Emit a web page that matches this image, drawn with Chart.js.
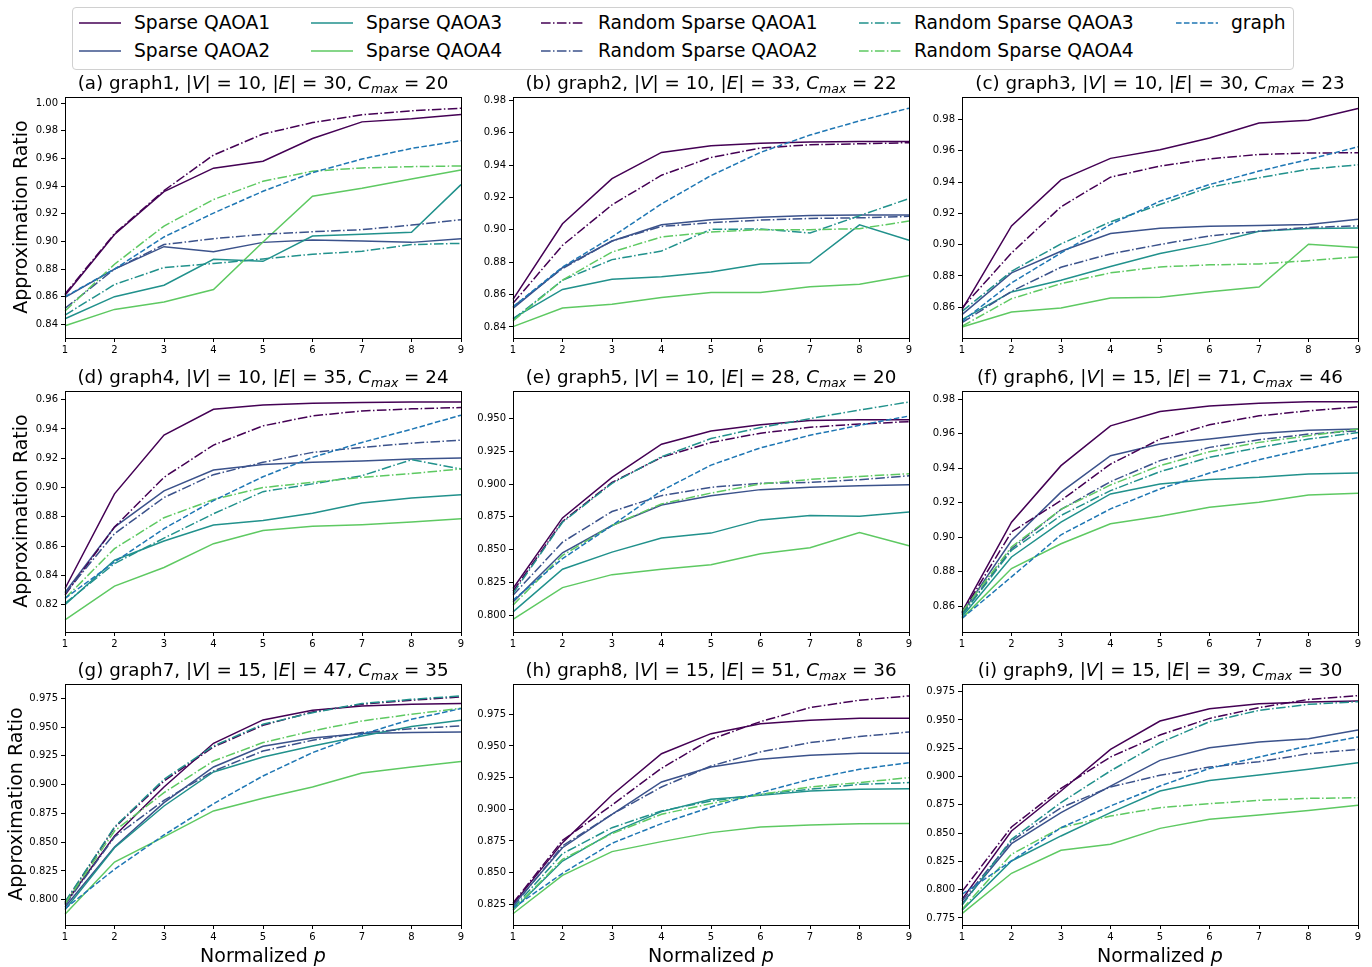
<!DOCTYPE html>
<html>
<head>
<meta charset="utf-8">
<script src="https://cdn.jsdelivr.net/npm/chart.js"></script>
<style>
body { margin: 0; background: #fff; font-family: 'DejaVu Sans', sans-serif; color: #000; }
#fig { position: relative; width: 1372px; height: 967px; overflow: hidden; }
.panel { position: absolute; }
.ttl { position: absolute; font-size: 18.3px; line-height: 22px; white-space: nowrap; transform: translateX(-50%); }
.ttl .sub { font-size: 12.5px; position: relative; top: 4px; font-style: italic; }
.xlab { position: absolute; font-size: 19px; line-height: 22px; white-space: nowrap; transform: translateX(-50%); }
.ylab { position: absolute; font-size: 19px; line-height: 22px; width: 242px; text-align: center; white-space: nowrap; transform: rotate(-90deg); }
#legend { position: absolute; left: 72px; top: 7px; width: 1220px; height: 61px; border: 1px solid #d0d0d0; border-radius: 4px; }
.item { position: absolute; font-size: 18.7px; line-height: 22px; white-space: nowrap; }
.item svg { position: absolute; top: 9px; }
</style>
</head>
<body>
<div id="fig">
  <div id="legend"></div>
</div>
<script>
// x axis, normalized p
var pLabels = ['1', '2', '3', '4', '5', '6', '7', '8', '9']

// panel info (a)..(i)
var panelLetters = ['a', 'b', 'c', 'd', 'e', 'f', 'g', 'h', 'i']
var graphNames = ['graph1', 'graph2', 'graph3', 'graph4', 'graph5', 'graph6', 'graph7', 'graph8', 'graph9']
var nodeCounts = [10, 10, 10, 10, 10, 15, 15, 15, 15]
var edgeCounts = [30, 33, 30, 35, 28, 71, 47, 51, 39]
var cutMax = [20, 22, 23, 24, 20, 46, 35, 36, 30]

// y axis limits per panel
var yMin = [0.8301, 0.8332, 0.8404, 0.8014, 0.7871, 0.845, 0.778, 0.8087, 0.7688]
var yMax = [1.0045, 0.982, 0.9943, 0.9659, 0.9711, 0.9848, 0.9874, 0.9989, 0.9818]
var yStep = [0.02, 0.02, 0.02, 0.02, 0.025, 0.02, 0.025, 0.025, 0.025]
var yDecimals = [2, 2, 2, 2, 3, 2, 3, 3, 3]

// one row per panel, one value per p
var sparse1 = [
    [0.861, 0.905, 0.936, 0.953, 0.958, 0.9745, 0.9865, 0.9887, 0.9918],
    [0.857, 0.9037, 0.9316, 0.9478, 0.9519, 0.9534, 0.9542, 0.9546, 0.9546],
    [0.8585, 0.912, 0.9414, 0.9551, 0.9606, 0.9681, 0.9777, 0.9794, 0.987],
    [0.8311, 0.8957, 0.9358, 0.9534, 0.9564, 0.9575, 0.958, 0.9584, 0.9584],
    [0.8203, 0.8742, 0.9052, 0.9305, 0.9406, 0.9454, 0.9485, 0.9492, 0.9492],
    [0.8567, 0.9087, 0.9415, 0.9646, 0.9729, 0.9761, 0.9777, 0.9785, 0.9785],
    [0.7965, 0.8553, 0.8979, 0.9359, 0.9562, 0.9646, 0.9683, 0.9698, 0.9704],
    [0.825, 0.8737, 0.9113, 0.9439, 0.9597, 0.9676, 0.9703, 0.9718, 0.9718],
    [0.7915, 0.8519, 0.8872, 0.924, 0.9491, 0.96, 0.9644, 0.9659, 0.9668]
]
var sparse2 = [
    [0.8595, 0.880, 0.8962, 0.8926, 0.8993, 0.901, 0.9003, 0.8993, 0.902],
    [0.8515, 0.8767, 0.8931, 0.9031, 0.9062, 0.9078, 0.9089, 0.9091, 0.9091],
    [0.8553, 0.882, 0.8958, 0.9071, 0.9105, 0.9118, 0.9122, 0.9129, 0.9163],
    [0.8284, 0.873, 0.8977, 0.912, 0.9158, 0.9172, 0.9181, 0.9195, 0.9201],
    [0.8101, 0.8476, 0.8684, 0.8841, 0.8912, 0.8958, 0.8976, 0.8988, 0.8996],
    [0.8558, 0.8981, 0.9261, 0.9473, 0.954, 0.9569, 0.9602, 0.9621, 0.9627],
    [0.7936, 0.8458, 0.8843, 0.9153, 0.9333, 0.9405, 0.9443, 0.9452, 0.9457],
    [0.824, 0.8697, 0.8961, 0.9216, 0.9334, 0.9395, 0.9426, 0.9442, 0.9442],
    [0.7877, 0.8407, 0.8681, 0.8916, 0.9143, 0.9255, 0.9305, 0.9335, 0.9411]
]
var sparse3 = [
    [0.844, 0.86, 0.8683, 0.8871, 0.8856, 0.9039, 0.9051, 0.9066, 0.9411],
    [0.8453, 0.8632, 0.8695, 0.871, 0.874, 0.8789, 0.8796, 0.9031, 0.8935],
    [0.8521, 0.8698, 0.8773, 0.886, 0.8943, 0.9005, 0.9086, 0.9103, 0.9107],
    [0.82, 0.8504, 0.8635, 0.8744, 0.8775, 0.8825, 0.8895, 0.8929, 0.895],
    [0.8025, 0.835, 0.8481, 0.8588, 0.8626, 0.8727, 0.876, 0.8755, 0.8788],
    [0.8538, 0.8885, 0.9087, 0.9251, 0.9309, 0.9334, 0.9347, 0.9367, 0.9372],
    [0.7913, 0.8452, 0.8814, 0.911, 0.924, 0.9336, 0.9423, 0.9504, 0.9559],
    [0.8203, 0.8592, 0.8816, 0.8982, 0.9079, 0.911, 0.9145, 0.9158, 0.9163],
    [0.7818, 0.8254, 0.8475, 0.8681, 0.8872, 0.8966, 0.9014, 0.9064, 0.9123]
]
var sparse4 = [
    [0.839, 0.8508, 0.8561, 0.8652, 0.8996, 0.9327, 0.9385, 0.9452, 0.9517],
    [0.8402, 0.8517, 0.8541, 0.8582, 0.8613, 0.8613, 0.8648, 0.8664, 0.8718],
    [0.8474, 0.857, 0.8596, 0.866, 0.8664, 0.87, 0.873, 0.9003, 0.8982],
    [0.8096, 0.8327, 0.8454, 0.8617, 0.8707, 0.8735, 0.8746, 0.8764, 0.8787],
    [0.7967, 0.821, 0.8309, 0.835, 0.8385, 0.8469, 0.8514, 0.8631, 0.853],
    [0.8529, 0.8818, 0.8962, 0.9078, 0.9122, 0.9174, 0.9203, 0.9245, 0.9255],
    [0.7873, 0.8327, 0.8545, 0.8771, 0.8881, 0.8979, 0.9101, 0.9153, 0.92],
    [0.8176, 0.8479, 0.8666, 0.8745, 0.8816, 0.8861, 0.8876, 0.8887, 0.8889],
    [0.7788, 0.8145, 0.8348, 0.8401, 0.8542, 0.8622, 0.866, 0.8701, 0.8746]
]
var random1 = [
    [0.862, 0.9056, 0.9368, 0.9625, 0.9777, 0.986, 0.9916, 0.9945, 0.9964],
    [0.8546, 0.8904, 0.9154, 0.9337, 0.9447, 0.9505, 0.9525, 0.9531, 0.9538],
    [0.8596, 0.8947, 0.9242, 0.9431, 0.9502, 0.9548, 0.9576, 0.9585, 0.9587],
    [0.8266, 0.873, 0.907, 0.929, 0.9421, 0.9489, 0.9523, 0.9537, 0.9546],
    [0.8182, 0.8715, 0.9013, 0.9204, 0.9318, 0.9389, 0.9434, 0.9459, 0.9477],
    [0.8561, 0.903, 0.9213, 0.9424, 0.9569, 0.9652, 0.9704, 0.9733, 0.9756],
    [0.7974, 0.8626, 0.9031, 0.9327, 0.9515, 0.9631, 0.9698, 0.9733, 0.9762],
    [0.826, 0.8755, 0.9034, 0.9324, 0.9553, 0.9692, 0.9803, 0.9861, 0.9895],
    [0.7983, 0.8554, 0.8896, 0.9173, 0.9367, 0.9514, 0.9609, 0.9682, 0.9715]
]
var random2 = [
    [0.8515, 0.880, 0.8977, 0.902, 0.9051, 0.907, 0.9085, 0.9118, 0.9157],
    [0.8525, 0.8761, 0.8931, 0.9021, 0.9044, 0.906, 0.907, 0.9074, 0.9083],
    [0.8502, 0.8702, 0.8856, 0.8941, 0.9001, 0.9056, 0.9086, 0.911, 0.912],
    [0.8277, 0.8685, 0.8932, 0.9088, 0.9172, 0.924, 0.9274, 0.9303, 0.9324],
    [0.8152, 0.8557, 0.8791, 0.8912, 0.8976, 0.9006, 0.9013, 0.9034, 0.9064],
    [0.8552, 0.8933, 0.9161, 0.9322, 0.9444, 0.9521, 0.9565, 0.9598, 0.9617],
    [0.7954, 0.8545, 0.8863, 0.9118, 0.9292, 0.9385, 0.9452, 0.9486, 0.951],
    [0.823, 0.8711, 0.8961, 0.9176, 0.9342, 0.9453, 0.9526, 0.9574, 0.961],
    [0.79, 0.843, 0.8725, 0.8908, 0.9011, 0.9084, 0.9131, 0.9202, 0.924]
]
var random3 = [
    [0.8467, 0.8688, 0.8811, 0.884, 0.8873, 0.8907, 0.8929, 0.8977, 0.8986],
    [0.8447, 0.8689, 0.8816, 0.8869, 0.9003, 0.9005, 0.898, 0.9087, 0.9193],
    [0.8574, 0.883, 0.9005, 0.9146, 0.9256, 0.9367, 0.9427, 0.9482, 0.951],
    [0.8209, 0.8481, 0.8655, 0.8821, 0.8972, 0.9025, 0.9081, 0.919, 0.9127],
    [0.8165, 0.8709, 0.9006, 0.9209, 0.9348, 0.9432, 0.95, 0.9566, 0.9627],
    [0.8548, 0.8924, 0.9126, 0.927, 0.938, 0.9463, 0.9521, 0.9569, 0.9607],
    [0.798, 0.8632, 0.9046, 0.9336, 0.9524, 0.9625, 0.9704, 0.9741, 0.977],
    [0.8218, 0.865, 0.8855, 0.8987, 0.9066, 0.9118, 0.9158, 0.9197, 0.9211],
    [0.7862, 0.8445, 0.877, 0.905, 0.9299, 0.9485, 0.9585, 0.9638, 0.9662]
]
var random4 = [
    [0.8496, 0.8835, 0.9111, 0.9303, 0.9435, 0.9508, 0.9532, 0.9541, 0.9546],
    [0.8437, 0.8689, 0.8863, 0.8956, 0.8986, 0.9001, 0.9001, 0.9007, 0.9054],
    [0.8479, 0.8655, 0.8751, 0.882, 0.8858, 0.8871, 0.8877, 0.8898, 0.8922],
    [0.8243, 0.8583, 0.8794, 0.8918, 0.9, 0.9036, 0.907, 0.9095, 0.9127],
    [0.8076, 0.8456, 0.8684, 0.8849, 0.8932, 0.9001, 0.9036, 0.9059, 0.9079],
    [0.8567, 0.8943, 0.9161, 0.9303, 0.9415, 0.9496, 0.955, 0.9588, 0.9627],
    [0.7965, 0.8597, 0.893, 0.9205, 0.9365, 0.9466, 0.9553, 0.9611, 0.9663],
    [0.8208, 0.8605, 0.8808, 0.8961, 0.9045, 0.9118, 0.9176, 0.9211, 0.925],
    [0.7827, 0.8313, 0.8548, 0.8651, 0.8725, 0.876, 0.879, 0.8807, 0.8813]
]
var graphRef = [
    [0.86, 0.880, 0.9032, 0.9205, 0.9363, 0.9498, 0.9596, 0.9673, 0.9729],
    [0.8525, 0.877, 0.8956, 0.916, 0.9335, 0.9478, 0.9585, 0.9673, 0.9751],
    [0.851, 0.8756, 0.8947, 0.9129, 0.9278, 0.9384, 0.947, 0.9544, 0.9625],
    [0.8243, 0.8492, 0.8719, 0.8911, 0.9074, 0.9206, 0.9308, 0.9398, 0.9494],
    [0.8114, 0.8431, 0.8684, 0.895, 0.9145, 0.9277, 0.9373, 0.9449, 0.952],
    [0.8529, 0.877, 0.9014, 0.9164, 0.928, 0.9372, 0.9449, 0.9515, 0.9578],
    [0.7922, 0.8264, 0.8562, 0.8834, 0.9075, 0.9278, 0.9437, 0.9567, 0.966],
    [0.822, 0.8495, 0.8732, 0.8887, 0.9018, 0.9132, 0.9237, 0.9316, 0.9368],
    [0.7959, 0.8254, 0.8548, 0.874, 0.8916, 0.9072, 0.9173, 0.927, 0.935]
]

var seriesData = [sparse1, sparse2, sparse3, sparse4, random1, random2, random3, random4, graphRef]
var seriesNames = ['Sparse QAOA1', 'Sparse QAOA2', 'Sparse QAOA3', 'Sparse QAOA4',
    'Random Sparse QAOA1', 'Random Sparse QAOA2', 'Random Sparse QAOA3', 'Random Sparse QAOA4', 'graph']
var seriesColors = ['#440154', '#3b528b', '#21918c', '#5ec962', '#440154', '#3b528b', '#21918c', '#5ec962', '#1f77b4']
var DASHDOT = [9.6, 2.4, 1.5, 2.4]
var DASHED = [5.55, 2.4]
var seriesDash = [[], [], [], [], DASHDOT, DASHDOT, DASHDOT, DASHDOT, DASHED]

// layout of the 3x3 grid (plot area of each axes)
var colLeft = [65, 513, 962]
var rowTop = [96, 390, 683]
var ylabelX = [20, 20, 15]   // wider tick labels on the bottom row push the label left
var PW = 396, PH = 242
var YW = 58, XH = 24, PT = 8, PR = 12

Chart.defaults.font.family = "'DejaVu Sans', sans-serif"

var framePlugin = {
    id: 'frame',
    afterDraw: function(chart) {
        var a = chart.chartArea
        var ctx = chart.ctx
        ctx.save()
        ctx.strokeStyle = '#000'
        ctx.lineWidth = 1
        ctx.strokeRect(Math.round(a.left) + 0.5, Math.round(a.top) + 0.5, Math.round(a.right - a.left), Math.round(a.bottom - a.top))
        ctx.restore()
    }
}

function dashAttr(dash) {
    return dash.length ? ' stroke-dasharray="' + dash.join(' ') + '"' : ''
}

function buildLegend() {
    var legend = document.getElementById('legend')
    var lineX = [6, 238, 468, 786, 1103]
    var textX = [61, 293, 525, 841, 1158]
    var rowY = [4, 32]
    for (var s = 0; s < seriesNames.length; s++) {
        var col = Math.floor(s / 2), row = s % 2
        var item = document.createElement('div')
        item.className = 'item'
        item.style.left = lineX[col] + 'px'
        item.style.top = rowY[row] + 'px'
        item.innerHTML = '<svg width="42" height="4" style="left:0"><line x1="0" y1="2" x2="42" y2="2" stroke="' +
            seriesColors[s] + '" stroke-width="1.5"' + dashAttr(seriesDash[s]) + '/></svg>' +
            '<span style="position:absolute;left:' + (textX[col] - lineX[col]) + 'px">' + seriesNames[s] + '</span>'
        legend.appendChild(item)
    }
}

function drawPanel(k) {
    var fig = document.getElementById('fig')
    var row = Math.floor(k / 3), col = k % 3
    var left = colLeft[col], top = rowTop[row]
    var dec = yDecimals[k]

    var box = document.createElement('div')
    box.className = 'panel'
    box.style.left = (left - YW) + 'px'
    box.style.top = (top - PT) + 'px'
    var canvas = document.createElement('canvas')
    canvas.width = YW + PW + PR
    canvas.height = PT + PH + XH
    box.appendChild(canvas)
    fig.appendChild(box)

    var title = document.createElement('div')
    title.className = 'ttl'
    title.style.left = (left + PW / 2) + 'px'
    title.style.top = (top - 24) + 'px'
    title.innerHTML = '(' + panelLetters[k] + ') ' + graphNames[k] + ', |<i>V</i>| = ' + nodeCounts[k] +
        ', |<i>E</i>| = ' + edgeCounts[k] + ', <i>C</i><span class="sub">max</span> = ' + cutMax[k]
    fig.appendChild(title)

    if (col == 0) {
        var yl = document.createElement('div')
        yl.className = 'ylab'
        yl.style.left = (ylabelX[row] - PH / 2) + 'px'
        yl.style.top = (top + PH / 2 - 11) + 'px'
        yl.textContent = 'Approximation Ratio'
        fig.appendChild(yl)
    }
    if (row == 2) {
        var xl = document.createElement('div')
        xl.className = 'xlab'
        xl.style.left = (left + PW / 2) + 'px'
        xl.style.top = '944px'
        xl.innerHTML = 'Normalized <i>p</i>'
        fig.appendChild(xl)
    }

    var datasets = []
    for (var s = 0; s < seriesData.length; s++) {
        datasets.push({
            label: seriesNames[s],
            data: seriesData[s][k],
            borderColor: seriesColors[s],
            backgroundColor: seriesColors[s],
            borderWidth: 1.5,
            borderDash: seriesDash[s],
            pointRadius: 0,
            fill: false,
            tension: 0,
            order: seriesData.length - 1 - s
        })
    }

    var gridOpts = { drawOnChartArea: false, drawTicks: true, tickLength: 4, color: '#000', lineWidth: 1 }

    new Chart(canvas, {
        type: 'line',
        data: { labels: pLabels, datasets: datasets },
        options: {
            responsive: false,
            animation: false,
            layout: { padding: { top: PT, right: PR, left: 0, bottom: 0 } },
            plugins: { legend: { display: false }, tooltip: { enabled: false } },
            scales: {
                x: {
                    type: 'category',
                    offset: false,
                    grid: gridOpts,
                    border: { display: false },
                    ticks: { color: '#000', font: { size: 10 }, padding: 2, maxRotation: 0, autoSkip: false },
                    afterFit: function(scale) { scale.height = XH }
                },
                y: {
                    type: 'linear',
                    min: yMin[k],
                    max: yMax[k],
                    grid: gridOpts,
                    border: { display: false },
                    ticks: {
                        stepSize: yStep[k],
                        includeBounds: false,
                        color: '#000',
                        font: { size: 10 },
                        padding: 3,
                        callback: function(v) { return v.toFixed(dec) }
                    },
                    afterFit: function(scale) { scale.width = YW }
                }
            }
        },
        plugins: [framePlugin]
    })
}

buildLegend()
for (var k = 0; k < 9; k++) {
    drawPanel(k)
}
</script>
</body>
</html>
